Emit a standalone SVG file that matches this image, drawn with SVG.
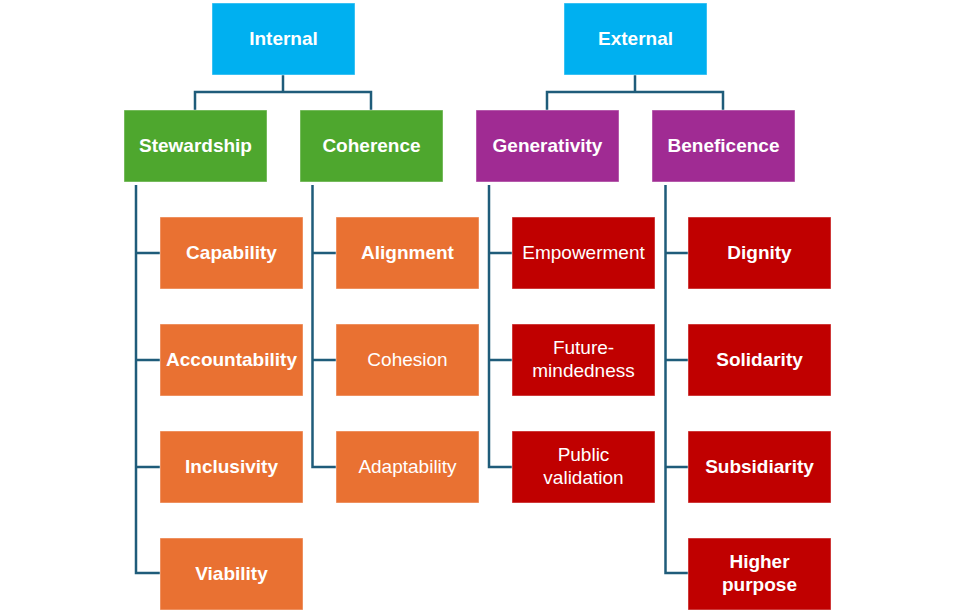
<svg xmlns="http://www.w3.org/2000/svg" width="972" height="612" viewBox="0 0 972 612">
<style>
.box{stroke:#ffffff;stroke-opacity:0.45;stroke-width:1}
.cyan{fill:#00B0F0}.green{fill:#4EA72E}.purple{fill:#A02B93}.orange{fill:#E97132}.red{fill:#C00000}
text{font-family:"Liberation Sans",Arial,sans-serif;font-size:19px;fill:#ffffff;text-anchor:middle;dominant-baseline:central}
.b{font-weight:bold}
.conn{fill:none;stroke:#1F5C7A;stroke-width:2.5}
</style>
<rect width="972" height="612" fill="#ffffff"/>
<g id="connectors">
<path class="conn" d="M283,75 V92 M195,110 V92 H371 V110"/>
<path class="conn" d="M635,75 V92 M547,110 V92 H723 V110"/>
<path class="conn" d="M136,185 V573 H160 M136,253 H160 M136,360 H160 M136,467 H160"/>
<path class="conn" d="M312.5,185 V467 H336 M312.5,253 H336 M312.5,360 H336"/>
<path class="conn" d="M489,185 V467 H512 M489,253 H512 M489,360 H512"/>
<path class="conn" d="M665.5,185 V573 H688 M665.5,253 H688 M665.5,360 H688 M665.5,467 H688"/>
</g>
<g id="internal"><rect class="box cyan" x="212" y="3" width="143" height="72"/><text class="b" x="283.5" y="38">Internal</text></g>
<g id="external"><rect class="box cyan" x="564" y="3" width="143" height="72"/><text class="b" x="635.5" y="38">External</text></g>
<g id="stewardship"><rect class="box green" x="124" y="110" width="143" height="72"/><text class="b" x="195.5" y="145">Stewardship</text></g>
<g id="coherence"><rect class="box green" x="300" y="110" width="143" height="72"/><text class="b" x="371.5" y="145">Coherence</text></g>
<g id="generativity"><rect class="box purple" x="476" y="110" width="143" height="72"/><text class="b" x="547.5" y="145">Generativity</text></g>
<g id="beneficence"><rect class="box purple" x="652" y="110" width="143" height="72"/><text class="b" x="723.5" y="145">Beneficence</text></g>
<g id="capability"><rect class="box orange" x="160" y="217" width="143" height="72"/><text class="b" x="231.5" y="252">Capability</text></g>
<g id="accountability"><rect class="box orange" x="160" y="324" width="143" height="72"/><text class="b" x="231.5" y="359">Accountability</text></g>
<g id="inclusivity"><rect class="box orange" x="160" y="431" width="143" height="72"/><text class="b" x="231.5" y="466">Inclusivity</text></g>
<g id="viability"><rect class="box orange" x="160" y="538" width="143" height="72"/><text class="b" x="231.5" y="573">Viability</text></g>
<g id="alignment"><rect class="box orange" x="336" y="217" width="143" height="72"/><text class="b" x="407.5" y="252">Alignment</text></g>
<g id="cohesion"><rect class="box orange" x="336" y="324" width="143" height="72"/><text x="407.5" y="359">Cohesion</text></g>
<g id="adaptability"><rect class="box orange" x="336" y="431" width="143" height="72"/><text x="407.5" y="466">Adaptability</text></g>
<g id="empowerment"><rect class="box red" x="512" y="217" width="143" height="72"/><text x="583.5" y="252">Empowerment</text></g>
<g id="future"><rect class="box red" x="512" y="324" width="143" height="72"/><text x="583.5" y="347">Future-</text><text x="583.5" y="370">mindedness</text></g>
<g id="public"><rect class="box red" x="512" y="431" width="143" height="72"/><text x="583.5" y="454">Public</text><text x="583.5" y="477">validation</text></g>
<g id="dignity"><rect class="box red" x="688" y="217" width="143" height="72"/><text class="b" x="759.5" y="252">Dignity</text></g>
<g id="solidarity"><rect class="box red" x="688" y="324" width="143" height="72"/><text class="b" x="759.5" y="359">Solidarity</text></g>
<g id="subsidiarity"><rect class="box red" x="688" y="431" width="143" height="72"/><text class="b" x="759.5" y="466">Subsidiarity</text></g>
<g id="higher"><rect class="box red" x="688" y="538" width="143" height="72"/><text class="b" x="759.5" y="561">Higher</text><text class="b" x="759.5" y="584">purpose</text></g>
</svg>
